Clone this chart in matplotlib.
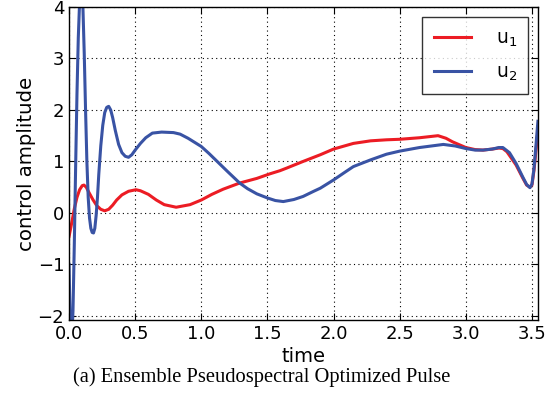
import matplotlib
matplotlib.use("Agg")
import matplotlib.pyplot as plt

# values
t_u1 = [0.000, 0.020, 0.040, 0.060, 0.080, 0.100, 0.113, 0.130, 0.150, 0.180,
        0.210, 0.240, 0.270, 0.300, 0.330, 0.360, 0.400, 0.450, 0.506, 0.540,
        0.600, 0.660, 0.720, 0.810, 0.915, 1.000, 1.080, 1.165, 1.290, 1.420,
        1.520, 1.595, 1.645, 1.770, 1.900, 2.000, 2.150, 2.280, 2.400, 2.500,
        2.650, 2.790, 2.850, 2.900, 3.000, 3.070, 3.130, 3.200, 3.250, 3.280,
        3.310, 3.340, 3.380, 3.430, 3.460, 3.485, 3.500, 3.515, 3.530, 3.545]
u1 = [-0.46, -0.20, 0.08, 0.30, 0.45, 0.53, 0.54, 0.50, 0.40, 0.26,
      0.14, 0.07, 0.04, 0.07, 0.15, 0.25, 0.35, 0.42, 0.45, 0.43,
      0.36, 0.25, 0.16, 0.11, 0.16, 0.25, 0.36, 0.46, 0.58, 0.67,
      0.76, 0.82, 0.87, 1.00, 1.13, 1.24, 1.35, 1.40, 1.42, 1.43,
      1.46, 1.50, 1.45, 1.38, 1.27, 1.23, 1.22, 1.24, 1.26, 1.25,
      1.19, 1.08, 0.93, 0.68, 0.54, 0.50, 0.54, 0.82, 1.20, 1.60]

t_u2 = [0.000, 0.010, 0.020, 0.030, 0.040, 0.050, 0.060, 0.070, 0.080, 0.090,
        0.097, 0.105, 0.115, 0.125, 0.135, 0.145, 0.155, 0.165, 0.175, 0.185,
        0.195, 0.205, 0.215, 0.225, 0.240, 0.255, 0.270, 0.285, 0.300, 0.315,
        0.330, 0.350, 0.375, 0.400, 0.425, 0.450, 0.475, 0.500, 0.540, 0.580,
        0.630, 0.700, 0.790, 0.840, 0.900, 1.000, 1.060, 1.120, 1.200, 1.290,
        1.350, 1.420, 1.500, 1.560, 1.620, 1.700, 1.770, 1.850, 1.900, 2.000,
        2.080, 2.150, 2.280, 2.400, 2.500, 2.650, 2.830, 2.920, 3.000, 3.070,
        3.130, 3.200, 3.250, 3.280, 3.330, 3.380, 3.430, 3.460, 3.485, 3.500,
        3.515, 3.530, 3.545]
u2 = [-1.00, -2.30, -2.50, -1.90, -0.60, 0.90, 2.30, 3.40, 4.10, 4.35,
      4.35, 4.00, 3.10, 2.00, 1.00, 0.30, -0.10, -0.30, -0.38, -0.39,
      -0.30, -0.05, 0.30, 0.75, 1.30, 1.70, 1.95, 2.05, 2.07, 2.00,
      1.85, 1.60, 1.33, 1.17, 1.10, 1.08, 1.13, 1.22, 1.35, 1.46,
      1.55, 1.57, 1.56, 1.53, 1.45, 1.29, 1.15, 1.00, 0.80, 0.58,
      0.47, 0.37, 0.29, 0.24, 0.22, 0.26, 0.32, 0.42, 0.48, 0.64,
      0.78, 0.90, 1.03, 1.14, 1.20, 1.27, 1.33, 1.30, 1.25, 1.22,
      1.22, 1.24, 1.27, 1.27, 1.17, 0.96, 0.70, 0.55, 0.49, 0.56,
      0.85, 1.30, 1.78]

xticks = [0.0, 0.5, 1.0, 1.5, 2.0, 2.5, 3.0, 3.5]
yticks = [-2, -1, 0, 1, 2, 3, 4]

fig = plt.figure(figsize=(5.5, 4.05), dpi=100)
ax = fig.add_axes([0.1255, 0.21, 0.8525, 0.7727])

ax.plot(t_u1, u1, color="#ec1c24", linewidth=2.2, label="u$_1$")
ax.plot(t_u2, u2, color="#3953a4", linewidth=2.2, label="u$_2$")

ax.set_xlim(0, 3.545)
ax.set_ylim(-2.08, 4)
ax.set_xticks(xticks)
ax.set_yticks(yticks)
ax.grid(True, color="k", linestyle=(0, (1, 3)), linewidth=0.8)
ax.tick_params(direction="in", top=True, right=True, labelsize=13, length=5)
for s in ax.spines.values():
    s.set_linewidth(1.0)

ax.set_xlabel("time", fontsize=14, labelpad=3)
ax.set_ylabel("control amplitude", fontsize=14.2, labelpad=1)

leg = ax.legend(loc="upper right", fontsize=13.5, fancybox=False, handlelength=2.0,
                borderpad=0.6, labelspacing=0.75, handletextpad=1.3,
                borderaxespad=0, bbox_to_anchor=(0.979, 0.968))
leg.get_frame().set_edgecolor("k")
leg.get_frame().set_linewidth(1.0)

fig.text(0.475, 0.07, "(a) Ensemble Pseudospectral Optimized Pulse",
         ha="center", va="center", fontsize=14.8, family="Liberation Serif")

fig.savefig("out.png", dpi=100)
